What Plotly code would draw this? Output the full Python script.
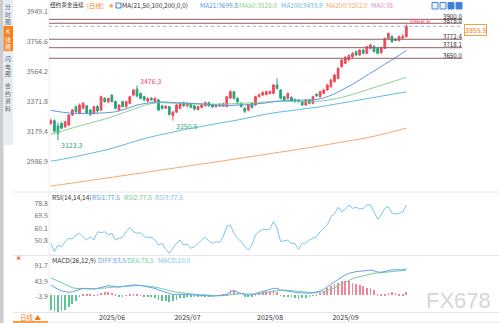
import plotly.graph_objects as go
import pandas as pd

W, H = 499, 323

# ---------------- data ----------------
dates = pd.bdate_range("2025-05-13", "2025-09-29")

opens = [3232, 3250, 3215, 3232, 3210, 3222, 3286, 3340, 3297, 3330,
         3345, 3318, 3297, 3340, 3318, 3393, 3372, 3414, 3372, 3318,
         3372, 3340, 3361, 3414, 3452, 3425, 3404, 3375, 3393, 3372,
         3383, 3345, 3330, 3340, 3282, 3305, 3329, 3365, 3345, 3358,
         3345, 3322, 3335, 3345, 3365, 3350, 3340, 3355, 3345, 3340,
         3395, 3436, 3393, 3361, 3329, 3318, 3360, 3350, 3404, 3415,
         3418, 3425, 3425, 3479, 3447, 3404, 3393, 3400, 3385, 3380,
         3372, 3350, 3382, 3361, 3420, 3404, 3425, 3447, 3468, 3500,
         3521, 3596, 3618, 3640, 3660, 3693, 3671, 3703, 3682, 3714,
         3725, 3714, 3685, 3714, 3778, 3789, 3772, 3765, 3780, 3789]
highs = [3262, 3258, 3238, 3242, 3250, 3292, 3325, 3348, 3360, 3368,
         3350, 3325, 3345, 3350, 3410, 3400, 3398, 3420, 3380, 3355,
         3378, 3378, 3410, 3452, 3476.3, 3430, 3410, 3400, 3400, 3400,
         3390, 3352, 3350, 3345, 3312, 3358, 3368, 3372, 3368, 3362,
         3350, 3345, 3358, 3375, 3372, 3360, 3358, 3362, 3365, 3410,
         3445, 3440, 3398, 3368, 3335, 3355, 3368, 3410, 3425, 3438,
         3442, 3445, 3485, 3522, 3452, 3410, 3430, 3405, 3392, 3386,
         3378, 3388, 3388, 3410, 3425, 3442, 3452, 3485, 3518, 3550,
         3592, 3645, 3665, 3675, 3690, 3700, 3710, 3712, 3730, 3742,
         3735, 3720, 3725, 3782, 3815, 3800, 3780, 3795, 3805, 3866.6]
lows = [3222, 3172, 3123.3, 3195, 3204, 3215, 3280, 3300, 3290, 3322,
        3292, 3280, 3290, 3300, 3312, 3365, 3360, 3368, 3322, 3310,
        3335, 3332, 3355, 3405, 3400, 3388, 3375, 3368, 3378, 3365,
        3310, 3320, 3325, 3282, 3250.5, 3298, 3322, 3338, 3335, 3330,
        3315, 3315, 3330, 3340, 3340, 3330, 3332, 3338, 3340, 3335,
        3390, 3385, 3355, 3335, 3300, 3310, 3328, 3345, 3398, 3408,
        3412, 3418, 3420, 3450, 3388, 3375, 3385, 3370, 3365, 3366,
        3345, 3345, 3355, 3355, 3402, 3398, 3420, 3442, 3462, 3495,
        3515, 3590, 3612, 3630, 3650, 3665, 3665, 3675, 3676, 3708,
        3688, 3676, 3680, 3710, 3772, 3750, 3760, 3758, 3770, 3785]
closes = [3250, 3182, 3168, 3202, 3243, 3286, 3318, 3308, 3350, 3362,
          3300, 3290, 3340, 3312, 3404, 3372, 3393, 3372, 3329, 3350,
          3340, 3372, 3404, 3447, 3408, 3393, 3383, 3392, 3383, 3393,
          3318, 3330, 3342, 3290, 3305, 3350, 3361, 3345, 3360, 3335,
          3325, 3340, 3350, 3365, 3345, 3338, 3352, 3345, 3358, 3404,
          3436, 3393, 3372, 3340, 3310, 3350, 3335, 3404, 3415, 3430,
          3436, 3436, 3479, 3457, 3393, 3382, 3425, 3375, 3372, 3372,
          3350, 3382, 3361, 3404, 3410, 3436, 3447, 3479, 3511, 3543,
          3586, 3639, 3655, 3668, 3680, 3671, 3703, 3682, 3725, 3735,
          3693, 3682, 3718, 3778, 3810, 3757, 3765, 3789, 3790, 3855.5]

# moving averages sampled every third session
MA_IDX = list(range(0, 100, 3))
ma21 = [3316, 3305, 3297, 3296, 3297, 3300, 3307, 3326, 3350, 3363,
        3371, 3368, 3364, 3361, 3358, 3352, 3344, 3349, 3352, 3357,
        3364, 3374, 3380, 3382, 3382, 3390, 3412, 3446, 3483, 3526,
        3569, 3612, 3655, 3699.8]
ma50 = [3163, 3182, 3203, 3223, 3241, 3260, 3283, 3307, 3331, 3355,
        3365, 3363, 3360, 3357, 3355, 3355, 3356, 3359, 3362, 3366,
        3371, 3374, 3374, 3372, 3372, 3375, 3385, 3399, 3418, 3440,
        3462, 3484, 3506, 3528.0]
ma100 = [2990, 3001, 3015, 3030, 3045, 3060, 3079, 3100, 3121, 3140,
         3157, 3172, 3187, 3201, 3213, 3226, 3238, 3250, 3263, 3278,
         3292, 3303, 3312, 3321, 3330, 3339, 3351, 3363, 3375, 3387,
         3399, 3411, 3423, 3433.9]
ma200 = [2830, 2840, 2850, 2860, 2870, 2880, 2890, 2900, 2910, 2920,
         2931, 2941, 2951, 2962, 2972, 2982, 2992, 3003, 3013, 3024,
         3034, 3045, 3055, 3066, 3077, 3088, 3100, 3112, 3124, 3136,
         3150, 3166, 3184, 3202.0]

rsi = [48.9, 42.6, 47.6, 46.3, 50.1, 52.6, 52.0, 55.0, 56.3, 53.8,
       51.3, 53.8, 51.3, 57.5, 56.8, 57.5, 55.1, 56.3, 51.3, 52.6,
       53.5, 57.5, 60.8, 57.5, 56.3, 56.8, 53.8, 53.3, 53.3, 51.3,
       47.6, 48.9, 44.4, 41.4, 45.1, 48.9, 51.3, 47.6, 48.4, 45.1,
       46.3, 48.9, 51.3, 53.3, 50.6, 48.9, 50.1, 49.4, 53.8, 61.3,
       62.6, 56.3, 52.6, 50.1, 46.3, 43.8, 47.6, 55.0, 57.6, 59.3,
       59.3, 59.3, 65.1, 60.1, 50.1, 50.8, 51.3, 48.8, 48.3, 44.4,
       48.8, 48.8, 51.3, 52.6, 53.8, 57.6, 60.1, 62.6, 68.8, 71.0,
       75.8, 72.5, 74.3, 77.5, 75.0, 75.8, 74.5, 75.0, 77.5, 77.5,
       72.5, 66.8, 70.0, 75.0, 76.3, 71.3, 70.8, 71.3, 72.5, 77.5]

diff = [32.5, 25, 19, 14, 11, 10, 11, 14, 18, 22,
        22, 21, 20, 22, 26, 28, 30, 30, 28, 26,
        27, 29, 31, 33, 33, 31, 29, 27, 25, 22,
        17, 13, 9, 5, 3, 3.5, 4, 3.5, 3, 2,
        1, 0, -0.5, -1.5, -2, -2, -1.5, -1, 1, 4,
        12, 14, 10, 6, 2, 1.4, 2, 6, 9, 13,
        16, 19, 22, 22, 17, 15, 14, 12, 10, 8,
        7, 6.5, 7, 8, 10, 14, 19, 26, 34, 42,
        50, 58, 64, 69, 72, 74, 75, 76, 77, 79,
        77, 73, 72, 75, 78, 80, 80, 79, 80, 83.5]
dea = [55, 50, 45, 38, 33, 28, 24, 22, 21, 20,
       20, 20, 20.5, 21, 22, 23, 24, 25.5, 26.5, 27,
       28, 28.5, 29, 30, 30.5, 30.5, 30, 29, 28, 26,
       24, 21, 18, 15, 12, 10, 8.5, 7, 6, 5,
       4, 3, 2, 1, 0, -0.5, -1, -1, -0.5, 1,
       3, 5, 6, 6, 5, 4, 3.5, 4, 5, 7,
       9, 12, 14, 16, 16.5, 16.5, 16, 15, 14, 13,
       11.5, 10, 9, 8.5, 9, 10, 12, 15, 19, 24,
       30, 36, 42, 47, 52, 56, 59, 62, 65, 67,
       69, 70, 71, 72, 73.5, 75, 76, 77, 77.5, 78.5]
macd_hist = [2 * (a - b) for a, b in zip(diff, dea)]

MAIN_TICKS = [3949.1, 3756.6, 3564.2, 3371.8, 3179.4, 2986.9]
RSI_TICKS = [78.8, 69.5, 60.1, 50.8]
MACD_TICKS = [91.7, 43.9, -3.9]
LEVELS = [3900.0, 3875.0, 3772.4, 3718.1, 3650.0]
HIGH_MARKS = [24, 99]
LOW_MARKS = [2, 34]

# ---------------- styling ----------------
RED = "#ef4a5c"
GREEN = "#25a678"
C_MA21 = "#5b93e0"
C_MA50 = "#86d08e"
C_MA100 = "#5ab8e6"
C_MA200 = "#f5a468"
C_MA0 = "#e58ad6"
C_RSI = "#7cc6ea"
C_DIFF = "#6a9ef0"
C_DEA = "#6fcf9f"
LEVEL_C = "#8e5f5f"
FONT = "Noto Sans CJK SC, Arial, sans-serif"

idx = list(range(len(dates)))
X_RANGE = [-0.5, 114.5]
XL, XR = 49, 462


def px(x):
    return x / W


def py(y):
    return 1 - y / H


fig = go.Figure()

fig.add_trace(go.Candlestick(
    x=idx, open=opens, high=highs, low=lows, close=closes,
    increasing=dict(line=dict(color=RED, width=1), fillcolor=RED),
    decreasing=dict(line=dict(color=GREEN, width=1), fillcolor=GREEN),
    xaxis="x", yaxis="y", showlegend=False, hoverinfo="skip"))

for vals, col in [(ma200, C_MA200), (ma100, C_MA100), (ma50, C_MA50), (ma21, C_MA21)]:
    fig.add_trace(go.Scatter(x=MA_IDX, y=vals, mode="lines",
                             line=dict(color=col, width=1, shape="spline", smoothing=0.6),
                             xaxis="x", yaxis="y", showlegend=False, hoverinfo="skip"))

fig.add_trace(go.Scatter(x=idx, y=rsi, mode="lines", line=dict(color=C_RSI, width=1),
                         xaxis="x2", yaxis="y2", showlegend=False, hoverinfo="skip"))

fig.add_trace(go.Bar(x=idx, y=macd_hist, width=0.2,
                     marker=dict(color=["#f2849a" if v >= 0 else "#5cc490" for v in macd_hist],
                                 line=dict(width=0)),
                     xaxis="x3", yaxis="y3", showlegend=False, hoverinfo="skip"))
fig.add_trace(go.Scatter(x=idx, y=dea, mode="lines", line=dict(color=C_DEA, width=1),
                         xaxis="x3", yaxis="y3", showlegend=False, hoverinfo="skip"))
fig.add_trace(go.Scatter(x=idx, y=diff, mode="lines", line=dict(color=C_DIFF, width=1),
                         xaxis="x3", yaxis="y3", showlegend=False, hoverinfo="skip"))

# month ticks at the first session of each month
month_first = [i for i in range(1, len(dates)) if dates[i].month != dates[i - 1].month]
month_text = [dates[i].strftime("%Y/%m") for i in month_first]

tickfont = dict(size=7, color="#707070", family=FONT)
MAIN_RANGE = [2805.0, 3998.5]
RSI_RANGE = [40.1, 86.5]
MACD_RANGE = [-51.6, 122.8]

xcommon = dict(domain=[px(XL), px(XR)], range=X_RANGE, showgrid=False, zeroline=False,
               showline=False, ticks="", fixedrange=True)
ycommon = dict(showgrid=False, zeroline=False, showline=False, ticks="", tickfont=tickfont,
               fixedrange=True)

fig.update_layout(
    width=W, height=H, margin=dict(l=0, r=0, t=0, b=0),
    paper_bgcolor="white", plot_bgcolor="white",
    font=dict(family=FONT, size=7, color="#333"),
    bargap=0,
    xaxis=dict(**xcommon, anchor="y", showticklabels=False, rangeslider=dict(visible=False)),
    xaxis2=dict(**xcommon, anchor="y2", matches="x", showticklabels=False),
    xaxis3=dict(**xcommon, anchor="y3", matches="x", tickvals=month_first, ticktext=month_text,
                tickfont=dict(size=7, color="#333", family=FONT), ticklabelshift=11,
                ticklabelstandoff=0),
    yaxis=dict(**ycommon, domain=[py(190), py(4)], range=MAIN_RANGE, tickvals=MAIN_TICKS,
               ticktext=[f"{v:.1f}" for v in MAIN_TICKS], anchor="x", side="left"),
    yaxis2=dict(**ycommon, domain=[py(255), py(193)], range=RSI_RANGE, tickvals=RSI_TICKS,
                ticktext=[f"{v:.1f}" for v in RSI_TICKS], anchor="x2", side="left"),
    yaxis3=dict(**ycommon, domain=[py(312), py(256)], range=MACD_RANGE, tickvals=MACD_TICKS,
                ticktext=[f"{v:.1f}" for v in MACD_TICKS], anchor="x3", side="left"),
    yaxis4=dict(**ycommon, overlaying="y", range=MAIN_RANGE, tickvals=MAIN_TICKS,
                ticktext=[f"{v:.1f}" for v in MAIN_TICKS], anchor="x", side="right",
                ticklabelstandoff=4),
    yaxis5=dict(**ycommon, overlaying="y2", range=RSI_RANGE, tickvals=RSI_TICKS,
                ticktext=[f"{v:.1f}" for v in RSI_TICKS], anchor="x2", side="right",
                ticklabelstandoff=4),
    yaxis6=dict(**ycommon, overlaying="y3", range=MACD_RANGE, tickvals=MACD_TICKS,
                ticktext=[f"{v:.1f}" for v in MACD_TICKS], anchor="x3", side="right",
                ticklabelstandoff=4),
)

shapes = []
annos = []

# left navigation strip
shapes.append(dict(type="rect", xref="paper", yref="paper", x0=0, x1=px(3.5), y0=0, y1=1,
                   fillcolor="#c9cdd2", line=dict(width=0), layer="below"))
shapes.append(dict(type="rect", xref="paper", yref="paper", x0=px(3.5), x1=px(13), y0=py(145), y1=1,
                   fillcolor="#e9edf2", line=dict(width=0), layer="below"))
shapes.append(dict(type="rect", xref="paper", yref="paper", x0=px(3.5), x1=px(13), y0=py(51), y1=py(26),
                   fillcolor="#f5821f", line=dict(width=0), layer="below"))
for s, yc, col in [("分<br>时<br>图", 13.5, "#4f6274"), ("K<br>线<br>图", 38.5, "white"),
                   ("闪<br>电<br>图", 66, "#4f6274"), ("合<br>约<br>资<br>料", 97, "#4f6274")]:
    annos.append(dict(x=px(8.3), y=py(yc), xref="paper", yref="paper", text=s, showarrow=False,
                      font=dict(size=5.8, color=col, family=FONT), xanchor="center", yanchor="middle",
                      align="center"))

# panel separators and frame
for yy in [192, 255.5, 312.5, 322]:
    shapes.append(dict(type="line", xref="paper", yref="paper", x0=px(13), x1=1, y0=py(yy), y1=py(yy),
                       line=dict(color="#e3e6ea", width=1)))
shapes.append(dict(type="line", xref="paper", yref="paper", x0=px(XL), x1=px(XL), y0=py(312.5), y1=1,
                   line=dict(color="#eceef0", width=1)))

# daily tab at the bottom left
shapes.append(dict(type="line", xref="paper", yref="paper", x0=px(13), x1=px(48), y0=py(322), y1=py(322),
                   line=dict(color="#f5821f", width=1.5)))
annos.append(dict(x=px(30), y=py(317), xref="paper", yref="paper", text="日线 ▲", showarrow=False,
                  font=dict(size=6.5, color="#f07a1a", family=FONT), xanchor="center", yanchor="middle"))
annos.append(dict(x=px(18), y=py(258.5), xref="paper", yref="paper", text="☀", showarrow=False,
                  font=dict(size=8, color="#e24a4a", family="DejaVu Sans"), xanchor="center",
                  yanchor="middle"))

# horizontal reference levels
for lv in LEVELS:
    shapes.append(dict(type="line", xref="paper", yref="y", x0=px(XL), x1=px(XR), y0=lv, y1=lv,
                       line=dict(color=LEVEL_C, width=1)))
    annos.append(dict(x=px(XR), y=lv, xref="paper", yref="y", text=f"{lv:.1f}", showarrow=False,
                      font=dict(size=6.2, color="#2b2b2b", family=FONT), xanchor="right",
                      yanchor="bottom", yshift=-1.5, borderpad=0, borderwidth=0))

# last price line and tag
last = closes[-1]
shapes.append(dict(type="line", xref="paper", yref="y", x0=px(XL), x1=px(XR), y0=last, y1=last,
                   line=dict(color="#9fb3c8", width=1, dash="dot")))
annos.append(dict(x=px(464), y=last, xref="paper", yref="y", text=f"{last:.1f}", showarrow=False,
                  font=dict(size=7, color="#f07a1a", family=FONT), xanchor="left", yanchor="middle",
                  bordercolor="#f5a04a", borderwidth=1, borderpad=0, bgcolor="white", yshift=-4))

# extreme price labels
for i in HIGH_MARKS:
    annos.append(dict(x=i, y=highs[i], xref="x", yref="y", text=f"{highs[i]:.1f}", showarrow=False,
                      font=dict(size=7, color="#e8506a", family=FONT), xanchor="left",
                      yanchor="middle", xshift=1, yshift=4))
for i in LOW_MARKS:
    annos.append(dict(x=i, y=lows[i], xref="x", yref="y", text=f"{lows[i]:.1f}", showarrow=False,
                      font=dict(size=7, color="#33a679", family=FONT), xanchor="left",
                      yanchor="middle", xshift=1, yshift=-5))

# header lines
header = [(49, "纽约黄金连续", "#333", 5.6), (86, "[日线]", "#f07a1a", 6.2),
          (121, "MA(21,50,100,200,0,0)", "#333", 6.5), (199, f"MA21:{ma21[-1]:.1f}", C_MA21, 6.5),
          (238, f"MA50:{ma50[-1]:.1f}", C_MA50, 6.5), (280, f"MA100:{ma100[-1]:.1f}", C_MA100, 6.5),
          (325, f"MA200:{ma200[-1]:.1f}", C_MA200, 6.5), (370, "MA0:38", C_MA0, 6.5)]
for x0, s, col, fs in header:
    annos.append(dict(x=px(x0), y=py(5.5), xref="paper", yref="paper", text=s, showarrow=False,
                      font=dict(size=fs, color=col, family=FONT), xanchor="left", yanchor="middle",
                      borderpad=0))
annos.append(dict(x=px(111), y=py(5.5), xref="paper", yref="paper", text="◉", showarrow=False,
                  font=dict(size=5.5, color="#f5a04a", family="DejaVu Sans"), xanchor="center",
                  yanchor="middle", borderpad=0))
shapes.append(dict(type="rect", xref="paper", yref="paper", x0=px(116), x1=px(121), y0=py(8), y1=py(3),
                   line=dict(color="#3f7fd6", width=1), fillcolor="white"))

rsi_head = [(50, "RSI(14,14,14)", "#333"), (90, f"RSI1:{rsi[-1]:.1f}", "#5b9be6"),
            (122, f"RSI2:{rsi[-1]:.1f}", "#6fd08c"), (153, f"RSI3:{rsi[-1]:.1f}", C_RSI)]
for x0, s, col in rsi_head:
    annos.append(dict(x=px(x0), y=py(197), xref="paper", yref="paper", text=s, showarrow=False,
                      font=dict(size=6.5, color=col, family=FONT), xanchor="left", yanchor="middle"))

macd_head = [(50, "MACD(26,12,9)", "#333"), (96, f"DIFF:{diff[-1]:.1f}", C_DIFF),
             (125, f"DEA:{dea[-1]:.1f}", C_DEA), (156, f"MACD:{macd_hist[-1]:.1f}", C_RSI)]
for x0, s, col in macd_head:
    annos.append(dict(x=px(x0), y=py(260), xref="paper", yref="paper", text=s, showarrow=False,
                      font=dict(size=6.5, color=col, family=FONT), xanchor="left", yanchor="middle"))

# toolbar icons at the top right
for k, filled in enumerate([False, False, True, True]):
    x0 = 432 + k * 8
    shapes.append(dict(type="rect", xref="paper", yref="paper", x0=px(x0), x1=px(x0 + 6),
                       y0=py(9), y1=py(2.5), line=dict(color="#4a86d8", width=1),
                       fillcolor="#3f7fd6" if filled else "#eaf2fc"))

# watermark
annos.append(dict(x=px(458), y=py(300), xref="paper", yref="paper", text="FX678", showarrow=False,
                  font=dict(size=22, color="#d6d6d6", family="Liberation Sans"), xanchor="center",
                  yanchor="middle"))

fig.update_layout(shapes=shapes, annotations=annos)
fig.write_html("out.html")
